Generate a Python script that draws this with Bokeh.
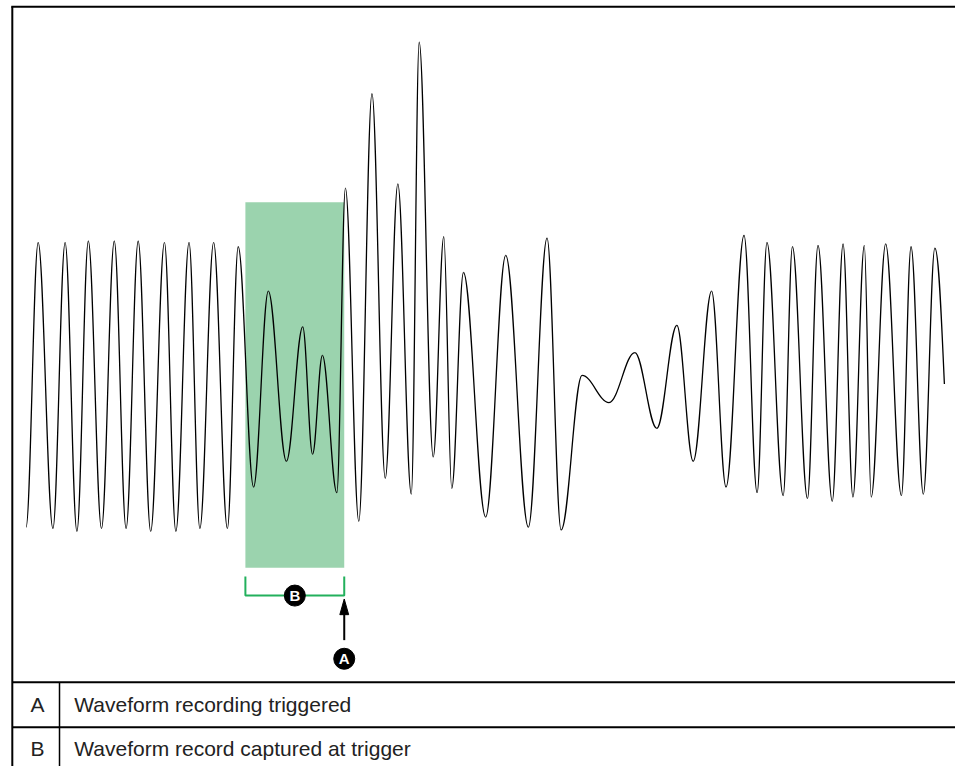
import numpy as np
from bokeh.plotting import figure
from bokeh.models import Range1d
from bokeh.embed import file_html
from bokeh.resources import INLINE
from bokeh.core.properties import value

# ---- data: waveform turning points (time in samples, amplitude in per-unit) ----
wave_t = [0, 12.3, 27.3, 39.7, 51.7, 63.3, 76.7, 89.7, 101.7, 114, 126.7, 140.7,
          152.3, 165.7, 176.7, 190.7, 204.7, 215.7, 231.3, 246.3, 264.7, 281.3,
          291.3, 301.3, 316, 324.7, 338.3, 351.7, 365.2, 378, 391.7, 399.7, 414,
          424.7, 432.8, 444.7, 467.3, 487.7, 510.7, 529.7, 544, 565.3, 592.7, 619,
          641.3, 661.7, 678.3, 697, 711.7, 730, 743.3, 753.3, 769.8, 779.2, 794.5,
          805.2, 819.7, 830.7, 840.7, 852.3, 859.3, 874, 890, 899.8, 912.3, 924, 933.7]
wave_a = [-0.99, 1.00, -1.00, 1.00, -1.02, 1.01, -1.00, 1.01, -1.00, 1.01, -1.02, 1.00,
          -1.02, 1.00, -1.00, 1.00, -1.00, 0.97, -0.71, 0.66, -0.53, 0.41,
          -0.48, 0.21, -0.75, 1.38, -0.95, 2.04, -0.65, 1.41, -0.76, 2.40, -0.50,
          1.04, -0.72, 0.79, -0.92, 0.91, -0.99, 1.03, -1.01, 0.07, -0.12, 0.23,
          -0.30, 0.42, -0.53, 0.66, -0.71, 1.05, -0.75, 1.00, -0.77, 0.97, -0.79,
          0.98, -0.81, 0.99, -0.78, 0.98, -0.78, 0.99, -0.77, 0.97, -0.76, 0.96, 0.01]

record_start = 223.0   # start of captured record window
trigger_t = 323.5      # instant the recording is triggered

row_labels = ["A", "B"]
row_texts = ["Waveform recording triggered", "Waveform record captured at trigger"]

# ---- layout helpers (reference-pixel -> data coordinates) ----
W, H = 955, 766
REF_W, REF_H = 971, 782
def TX(px):
    return px - 26.0
def AY(py):
    return (393.0 - py) / 146.0

GREEN_FILL = "#9BD3AE"
GREEN_LINE = "#22B05C"
FONT = value("Liberation Sans")

p = figure(width=W, height=H, x_range=Range1d(TX(0), TX(REF_W)),
           y_range=Range1d(AY(REF_H), AY(0)), output_backend="svg",
           toolbar_location=None, min_border=0)
p.axis.visible = False
p.grid.visible = False
p.outline_line_color = None
p.background_fill_color = "white"
p.border_fill_color = "white"

# record window
p.quad(left=[record_start], right=[trigger_t], bottom=[AY(579)], top=[AY(206)],
       fill_color=GREEN_FILL, line_color=None)

# waveform as smooth bezier segments between turning points
t = np.array(wave_t, dtype=float)
a = np.array(wave_a, dtype=float)
x0, y0, x1, y1 = t[:-1], a[:-1], t[1:], a[1:]
dx = x1 - x0
k = 0.3634
cx0 = x0 + k * dx
cy0 = y0.copy()
cx1 = x1 - k * dx
cy1 = y1.copy()
# last segment ends mid-swing: steep tangent at end
amp = y0[-1] - y1[-1]
cx0[-1] = x0[-1] + 0.4 * dx[-1]
cx1[-1] = x1[-1] - dx[-1] / 3.0
cy1[-1] = y1[-1] + amp * np.pi / 6.0
p.bezier(x0=x0, y0=y0, x1=x1, y1=y1, cx0=cx0, cy0=cy0, cx1=cx1, cy1=cy1,
         line_color="black", line_width=1.3)

# bracket B
p.multi_line(xs=[[record_start, record_start, trigger_t, trigger_t]],
             ys=[[AY(588), AY(607.5), AY(607.5), AY(588)]],
             line_color=GREEN_LINE, line_width=2)

# arrow A
p.segment(x0=[trigger_t], y0=[AY(653)], x1=[trigger_t], y1=[AY(622)],
          line_color="black", line_width=2)
p.patch(x=[trigger_t - 4.5, trigger_t, trigger_t + 4.5],
        y=[AY(627), AY(611), AY(627)], fill_color="black", line_color="black",
        line_width=1)

# circled callouts
cx = [(record_start + trigger_t) / 2.0, trigger_t]
cy = [AY(607.5), AY(672)]
p.scatter(x=cx, y=cy, marker="circle", size=21, fill_color="black",
          line_color="black")
p.text(x=cx, y=cy, text=["B", "A"], text_color="white", text_font=FONT,
       text_font_style="bold", text_font_size="15px", text_align="center",
       text_baseline="middle")

# frame and table lines
right = TX(REF_W)
p.segment(x0=[TX(12)], y0=[AY(6)], x1=[TX(12)], y1=[AY(REF_H)],
          line_color="black", line_width=2)
p.segment(x0=[TX(11)], y0=[AY(6.5)], x1=[right], y1=[AY(6.5)],
          line_color="black", line_width=2)
p.segment(x0=[TX(12), TX(12)], y0=[AY(696), AY(742)], x1=[right, right],
          y1=[AY(696), AY(742)], line_color="black", line_width=2)
p.segment(x0=[TX(60)], y0=[AY(696)], x1=[TX(60)], y1=[AY(REF_H)],
          line_color="black", line_width=1.5)

row_y = [AY(719), AY(763.5)]
p.text(x=[TX(37.5)] * 2, y=row_y, text=row_labels, text_color="#222222",
       text_font=FONT, text_font_size="21px", text_align="center",
       text_baseline="middle")
p.text(x=[TX(75)] * 2, y=row_y, text=row_texts, text_color="#222222",
       text_font=FONT, text_font_size="21px", text_align="left",
       text_baseline="middle")

open("out.html", "w").write(file_html(p, INLINE))
